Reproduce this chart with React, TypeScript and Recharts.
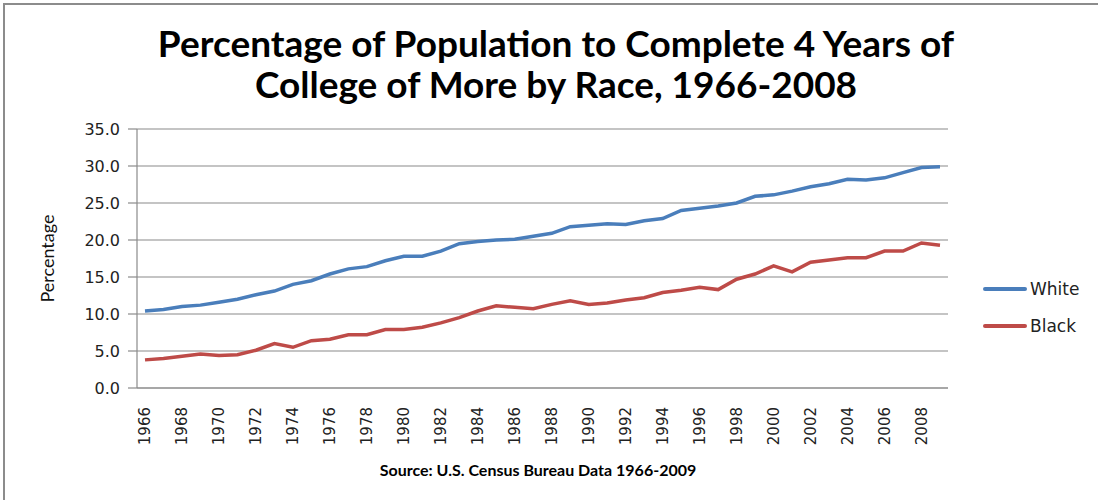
import React from 'react';
import { LineChart, Line, XAxis, YAxis, CartesianGrid, Legend } from 'recharts';

const years: number[] = [
  1966, 1967, 1968, 1969, 1970, 1971, 1972, 1973, 1974, 1975, 1976, 1977, 1978, 1979, 1980,
  1981, 1982, 1983, 1984, 1985, 1986, 1987, 1988, 1989, 1990, 1991, 1992, 1993, 1994, 1995,
  1996, 1997, 1998, 1999, 2000, 2001, 2002, 2003, 2004, 2005, 2006, 2007, 2008, 2009,
];

const white: number[] = [
  10.4, 10.6, 11.0, 11.2, 11.6, 12.0, 12.6, 13.1, 14.0, 14.5, 15.4, 16.1, 16.4, 17.2, 17.8,
  17.8, 18.5, 19.5, 19.8, 20.0, 20.1, 20.5, 20.9, 21.8, 22.0, 22.2, 22.1, 22.6, 22.9, 24.0,
  24.3, 24.6, 25.0, 25.9, 26.1, 26.6, 27.2, 27.6, 28.2, 28.1, 28.4, 29.1, 29.8, 29.9,
];

const black: number[] = [
  3.8, 4.0, 4.3, 4.6, 4.4, 4.5, 5.1, 6.0, 5.5, 6.4, 6.6, 7.2, 7.2, 7.9, 7.9,
  8.2, 8.8, 9.5, 10.4, 11.1, 10.9, 10.7, 11.3, 11.8, 11.3, 11.5, 11.9, 12.2, 12.9, 13.2,
  13.6, 13.3, 14.7, 15.4, 16.5, 15.7, 17.0, 17.3, 17.6, 17.6, 18.5, 18.5, 19.6, 19.3,
];

const yTicks: number[] = [0, 5, 10, 15, 20, 25, 30, 35];

const seriesNames = ['White', 'Black'];
const seriesColors = ['#4A7EBB', '#BE4B48'];

const titleLines = ['Percentage of Population to Complete 4 Years of', 'College of More by Race, 1966-2008'];
const yAxisTitle = 'Percentage';
const sourceText = 'Source: U.S. Census Bureau Data 1966-2009';

const data = years.map((y, i) => ({ year: String(y), White: white[i], Black: black[i] }));

const tickFont = '"DejaVu Sans", Verdana, sans-serif';
const titleFont = 'Lato, "Open Sans", sans-serif';

const XTick = (props: any) => {
  const { x, y, payload } = props;
  return (
    <text
      x={x}
      y={y}
      transform={`rotate(-90, ${x}, ${y})`}
      textAnchor="end"
      dy="0.36em"
      fontFamily={tickFont}
      fontSize={15}
      fill="#222"
    >
      {payload.value}
    </text>
  );
};

const renderLegend = () => (
  <div style={{ fontFamily: tickFont, fontSize: 17, color: '#222' }}>
    {seriesNames.map((n, i) => (
      <div key={n} style={{ display: 'flex', alignItems: 'center', height: 37 }}>
        <div style={{ width: 44, height: 4, background: seriesColors[i], borderRadius: 2, marginRight: 3 }} />
        <span>{n}</span>
      </div>
    ))}
  </div>
);

const YLabel = (props: any) => {
  const { viewBox } = props;
  const cy = viewBox.y + viewBox.height / 2;
  const cx = 47;
  return (
    <text
      x={cx}
      y={cy}
      transform={`rotate(-90, ${cx}, ${cy})`}
      textAnchor="middle"
      dominantBaseline="central"
      fontFamily={titleFont}
      fontSize={18}
      fill="#111"
    >
      {yAxisTitle}
    </text>
  );
};

export default function App() {
  return (
    <div style={{ position: 'absolute', left: 0, top: 0, width: 1098, height: 500, background: '#fff' }}>
      <div
        style={{
          position: 'absolute',
          left: 3,
          top: 3,
          width: 1095,
          height: 497,
          borderLeft: '2px solid #8c8c8c',
          borderTop: '2px solid #8c8c8c',
          boxSizing: 'border-box',
        }}
      />
      <div
        style={{
          position: 'absolute',
          left: 0,
          top: 22,
          width: 1112,
          textAlign: 'center',
          fontFamily: titleFont,
          fontWeight: 700,
          fontSize: 37,
          lineHeight: '41px',
          color: '#000',
        }}
      >
        {titleLines.map((t) => (
          <div key={t}>{t}</div>
        ))}
      </div>
      <LineChart
        width={1098}
        height={500}
        data={data}
        margin={{ top: 129, right: 150, bottom: 52, left: 0 }}
      >
        <CartesianGrid vertical={false} stroke="#8a8a8a" strokeWidth={1.2} />
        <XAxis
          dataKey="year"
          interval={1}
          height={60}
          tickLine={false}
          tickSize={0}
          tickMargin={19}
          axisLine={{ stroke: '#8a8a8a', strokeWidth: 1.2 }}
          tick={<XTick />}
          padding={{ left: 8, right: 8 }}
        />
        <YAxis
          width={137}
          domain={[0, 35]}
          ticks={yTicks}
          interval={0}
          tickFormatter={(v: number) => v.toFixed(1)}
          tickSize={9}
          tickMargin={8}
          tickLine={{ stroke: '#8a8a8a', strokeWidth: 1.2 }}
          axisLine={{ stroke: '#8a8a8a', strokeWidth: 1.2 }}
          tick={{ fontFamily: tickFont, fontSize: 16, fill: '#222' }}
          label={<YLabel />}
        />
        <Legend
          layout="horizontal"
          verticalAlign="middle"
          align="center"
          content={renderLegend}
          wrapperStyle={{ left: 983, top: 270, width: 115 }}
        />
        {seriesNames.map((n, i) => (
          <Line
            key={n}
            type="linear"
            dataKey={n}
            stroke={seriesColors[i]}
            strokeWidth={3.5}
            dot={false}
            activeDot={false}
            isAnimationActive={false}
          />
        ))}
      </LineChart>
      <div
        style={{
          position: 'absolute',
          left: 0,
          top: 460,
          width: 1076,
          textAlign: 'center',
          fontFamily: titleFont,
          fontWeight: 700,
          fontSize: 16,
          color: '#000',
        }}
      >
        {sourceText}
      </div>
    </div>
  );
}
